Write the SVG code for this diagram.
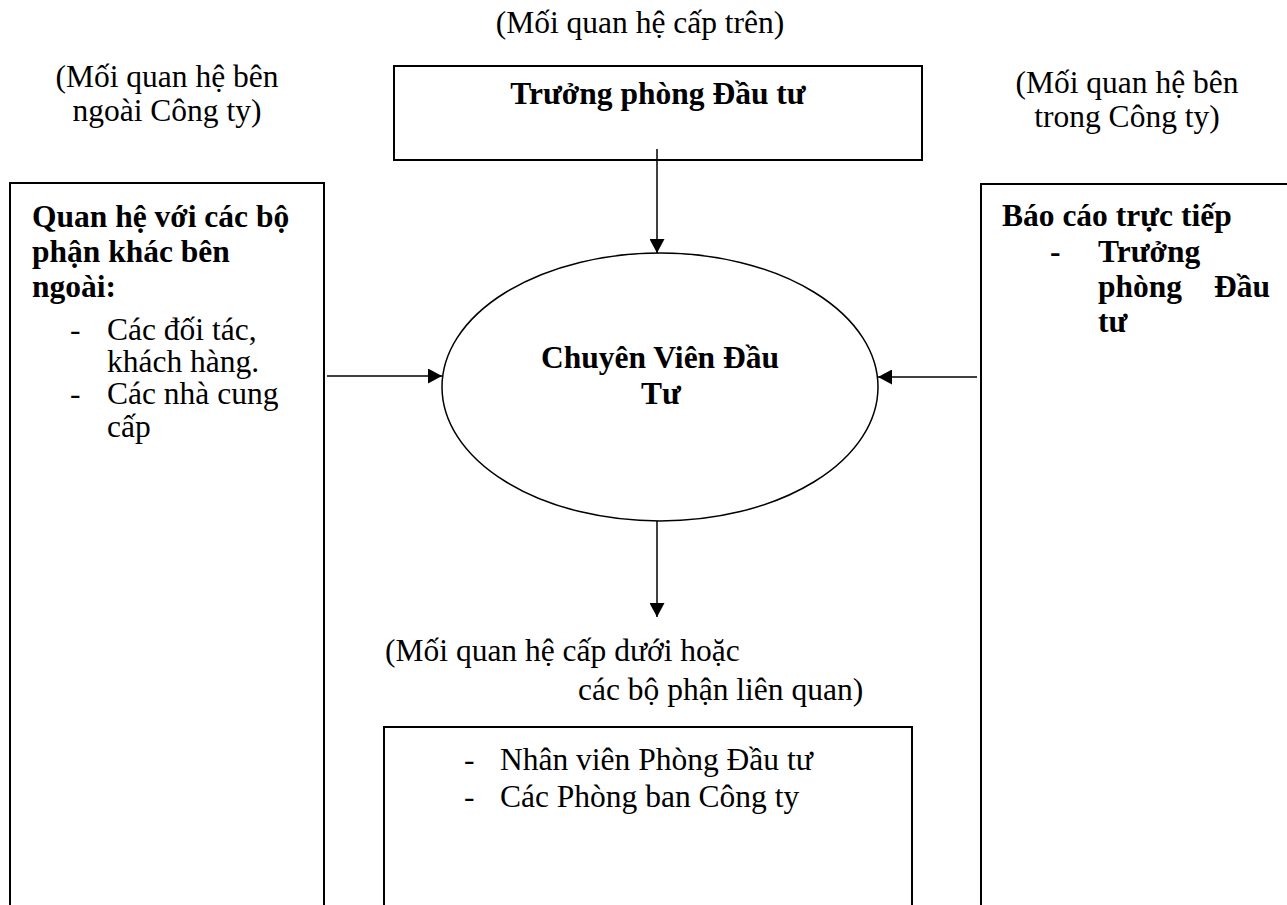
<svg xmlns="http://www.w3.org/2000/svg" width="1287" height="905" viewBox="0 0 1287 905">
<style>
text{font-family:"Liberation Serif","Times New Roman",serif;font-size:31.5px;fill:#000}
.b{font-weight:bold}
.m{text-anchor:middle}
.box{fill:#fff;stroke:#000;stroke-width:2}
.ell{fill:#fff;stroke:#000;stroke-width:1.5}
.con line{stroke:#000;stroke-width:1.5}
</style>
<defs>
<marker id="ah" viewBox="0 0 14 15" refX="14" refY="7.5" markerWidth="14" markerHeight="15" markerUnits="userSpaceOnUse" orient="auto">
<path d="M0,0 L14,7.5 L0,15 Z" fill="#000"/>
</marker>
</defs>
<rect width="1287" height="905" fill="#fff"/>
<g id="labels">
<text class="m" x="640" y="33">(Mối quan hệ cấp trên)</text>
<text class="m" x="167" y="87">(Mối quan hệ bên</text>
<text class="m" x="167" y="121">ngoài Công ty)</text>
<text class="m" x="1127" y="93">(Mối quan hệ bên</text>
<text class="m" x="1127" y="127">trong Công ty)</text>
<text x="385" y="661">(Mối quan hệ cấp dưới hoặc</text>
<text x="578" y="700">các bộ phận liên quan)</text>
</g>
<g id="top">
<rect class="box" x="394" y="66" width="528" height="94"/>
<text class="b m" x="658" y="104">Trưởng phòng Đầu tư</text>
</g>
<g id="left">
<path class="box" d="M10,906 V183 H324 V906"/>
<text class="b" x="32" y="227">Quan hệ với các bộ</text>
<text class="b" x="32" y="262">phận khác bên</text>
<text class="b" x="32" y="297">ngoài:</text>
<text x="70" y="340">-</text>
<text x="107" y="340">Các đối tác,</text>
<text x="107" y="372">khách hàng.</text>
<text x="70" y="404">-</text>
<text x="107" y="404">Các nhà cung</text>
<text x="107" y="437">cấp</text>
</g>
<g id="right">
<path class="box" d="M981,906 V184 H1290"/>
<text class="b" x="1002" y="226">Báo cáo trực tiếp</text>
<text class="b" x="1050" y="262">-</text>
<text class="b" x="1098" y="262">Trưởng</text>
<text class="b" x="1098" y="297">phòng</text>
<text class="b" x="1270" y="297" text-anchor="end">Đầu</text>
<text class="b" x="1098" y="332">tư</text>
</g>
<g id="center">
<ellipse class="ell" cx="660" cy="387" rx="218" ry="134"/>
<text class="b m" x="660" y="368">Chuyên Viên Đầu</text>
<text class="b m" x="661" y="404">Tư</text>
</g>
<g id="bottom">
<path class="box" d="M384,906 V727 H912 V906"/>
<text x="464" y="770">-</text>
<text x="500" y="770">Nhân viên Phòng Đầu tư</text>
<text x="464" y="807">-</text>
<text x="500" y="807">Các Phòng ban Công ty</text>
</g>
<g id="connectors" class="con">
<line x1="657" y1="149" x2="657" y2="253" marker-end="url(#ah)"/>
<line x1="327" y1="376" x2="442" y2="376" marker-end="url(#ah)"/>
<line x1="977" y1="377" x2="878" y2="377" marker-end="url(#ah)"/>
<line x1="657" y1="521" x2="657" y2="617" marker-end="url(#ah)"/>
</g>
</svg>
